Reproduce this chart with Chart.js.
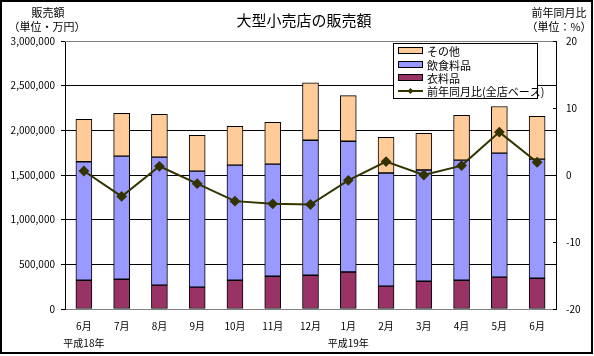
<!DOCTYPE html>
<html><head><meta charset="utf-8">
<script src="https://cdn.jsdelivr.net/npm/chart.js@4.4.0/dist/chart.umd.min.js"></script>
<style>html,body{margin:0;padding:0;background:#fff}#wrap{width:594px;height:356px}</style>
</head><body><div id="wrap"><canvas id="c" width="594" height="356"></canvas></div>
<script>
const months = ["6月","7月","8月","9月","10月","11月","12月","1月","2月","3月","4月","5月","6月"];
const years = ["平成18年","","","","","","","平成19年","","","","",""];
const clothing = [322000,333000,267000,244000,322000,367000,378000,414000,256000,311000,322000,356000,344000];
const food = [1326000,1378000,1433000,1300000,1289000,1255000,1511000,1464000,1266000,1245000,1345000,1388000,1334000];
const other = [474000,478000,478000,400000,433000,467000,644000,511000,400000,411000,500000,523000,478000];
const yoy = [0.6,-3.2,1.3,-1.3,-3.9,-4.3,-4.4,-0.8,2.0,0.0,1.4,6.4,1.9];
const leftTicks = [0,500000,1000000,1500000,2000000,2500000,3000000];
const rightTicks = [-20,-10,0,10,20];

const FONT = '"Noto Sans CJK JP","DejaVu Sans",sans-serif';
const C_OTHER='#FFCC99', C_FOOD='#9999FF', C_CLOTH='#993366', C_LINE='#333300';

const labels = months.map((m,i)=> [m, years[i]]);

const deco = {
  id:'deco',
  afterDraw(chart){
    const ctx = chart.ctx, a = chart.chartArea;
    ctx.save();
    ctx.strokeStyle='#808080'; ctx.lineWidth=1;
    ctx.beginPath(); ctx.moveTo(a.left, a.top+0.5); ctx.lineTo(a.right, a.top+0.5); ctx.stroke();
    const y1 = chart.scales.y1;
    ctx.strokeStyle='#000';
    ctx.beginPath();
    rightTicks.forEach(v=>{const p=Math.round(y1.getPixelForValue(v))+0.5; ctx.moveTo(a.right-3,p); ctx.lineTo(a.right,p);});
    ctx.stroke();
    ctx.fillStyle='#000'; ctx.textAlign='center'; ctx.textBaseline='middle';
    ctx.font='15px '+FONT; ctx.fillText('大型小売店の販売額',304,20);
    ctx.font='11px '+FONT;
    ctx.fillText('販売額',48,13); ctx.fillText('（単位・万円）',47,27);
    ctx.fillText('前年同月比',559,13); ctx.fillText('（単位：%）',559,27);
    const lx=393, ly=43, lw=144, lh=55;
    ctx.fillStyle='#fff'; ctx.fillRect(lx,ly,lw,lh);
    ctx.strokeStyle='#000'; ctx.lineWidth=1; ctx.strokeRect(lx+0.5,ly+0.5,lw,lh);
    const items=[['その他',C_OTHER,'bar'],['飲食料品',C_FOOD,'bar'],['衣料品',C_CLOTH,'bar'],['前年同月比(全店ベース)',C_LINE,'line']];
    const rowsY=[51,65,78,91];
    ctx.font='11px '+FONT; ctx.textAlign='left';
    items.forEach((it,i)=>{
      const y=rowsY[i];
      if(it[2]==='bar'){
        ctx.fillStyle=it[1]; ctx.fillRect(398.5,y-3.5,24,6);
        ctx.strokeStyle='#000'; ctx.strokeRect(398.5,y-3.5,24,6);
      } else {
        ctx.strokeStyle=it[1]; ctx.lineWidth=2;
        ctx.beginPath(); ctx.moveTo(398,y); ctx.lineTo(423,y); ctx.stroke();
        ctx.fillStyle=it[1]; ctx.beginPath();
        ctx.moveTo(410.5,y-3); ctx.lineTo(413.5,y); ctx.lineTo(410.5,y+3); ctx.lineTo(407.5,y); ctx.closePath(); ctx.fill();
        ctx.lineWidth=1;
      }
      ctx.fillStyle='#000'; ctx.fillText(it[0],427,y+1);
    });
    ctx.strokeStyle='#000'; ctx.lineWidth=2; ctx.strokeRect(1,1,591,352);
    ctx.restore();
  }
};

new Chart(document.getElementById('c'),{
  data:{
    labels: labels,
    datasets:[
      {type:'line',label:'前年同月比(全店ベース)',data:yoy,yAxisID:'y1',borderColor:C_LINE,backgroundColor:C_LINE,borderWidth:2,
       pointStyle:'rectRot',pointRadius:4,pointBackgroundColor:C_LINE,pointBorderColor:C_LINE,tension:0,order:0},
      {type:'bar',label:'衣料品',data:clothing,yAxisID:'y',backgroundColor:C_CLOTH,borderColor:'#000',borderWidth:1,borderSkipped:false,barThickness:16,order:1},
      {type:'bar',label:'飲食料品',data:food,yAxisID:'y',backgroundColor:C_FOOD,borderColor:'#000',borderWidth:1,borderSkipped:false,barThickness:16,order:1},
      {type:'bar',label:'その他',data:other,yAxisID:'y',backgroundColor:C_OTHER,borderColor:'#000',borderWidth:1,borderSkipped:false,barThickness:16,order:1}
    ]
  },
  options:{
    responsive:false, animation:false,
    layout:{padding:{top:41,left:0,right:0,bottom:0}},
    plugins:{legend:{display:false},title:{display:false},tooltip:{enabled:false}},
    scales:{
      x:{stacked:true,grid:{display:false},border:{color:'#808080'},
         ticks:{color:'#000',font:{family:FONT,size:10,lineHeight:1.7},maxRotation:0,autoSkip:false,padding:1},
         afterFit(s){s.height=47;}},
      y:{stacked:true,position:'left',min:0,max:3000000,
         afterBuildTicks(s){s.ticks=leftTicks.map(v=>({value:v}));},
         grid:{color:'#000',tickLength:4,tickColor:'#000'},border:{color:'#000'},
         ticks:{color:'#000',font:{family:FONT,size:10},padding:6,callback:v=>v.toLocaleString('en-US')},
         afterFit(s){s.width=65;}},
      y1:{position:'right',min:-20,max:20,
         afterBuildTicks(s){s.ticks=rightTicks.map(v=>({value:v}));},
         grid:{drawOnChartArea:false,drawTicks:false},border:{color:'#000'},
         ticks:{color:'#000',font:{family:FONT,size:10},padding:10},
         afterFit(s){s.width=38;}}
    }
  },
  plugins:[deco]
});
</script></body></html>
